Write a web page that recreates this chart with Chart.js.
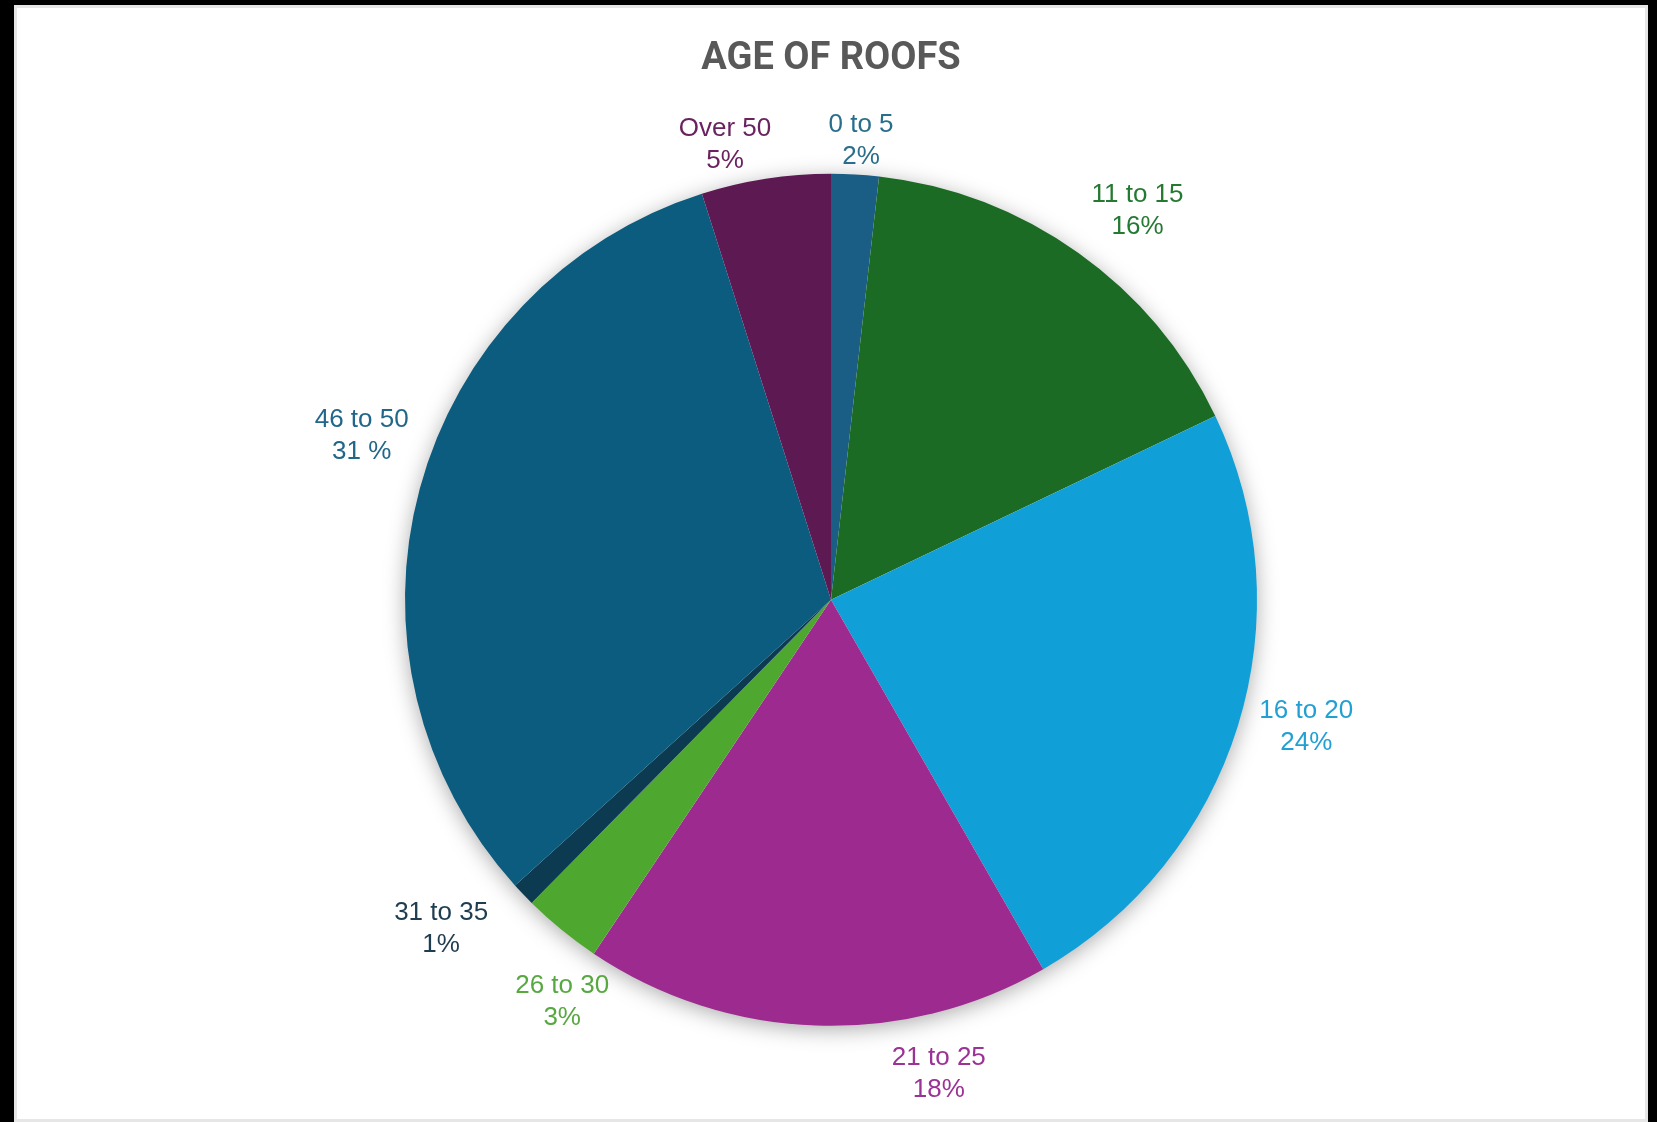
<!DOCTYPE html>
<html lang="en">
<head>
  <meta charset="UTF-8" />
  <title>Age of Roofs</title>
  <script src="https://cdn.jsdelivr.net/npm/chart.js"></script>
  <style>
    html, body {
      margin: 0;
      padding: 0;
      background-color: #000;
      width: 1657px;
      height: 1122px;
      overflow: hidden;
    }
    .panel {
      position: absolute;
      left: 14px;
      top: 5px;
      right: 9px;
      bottom: 0;
      background: #fff;
      border: 3px solid #e6e6e6;
      box-sizing: border-box;
    }
    .wrap {
      position: absolute;
      left: 0;
      top: 0;
      width: 1657px;
      height: 1122px;
    }
  </style>
</head>
<body>
  <div class="panel"></div>
  <div class="wrap"><canvas id="roofChart"></canvas></div>

  <script>
    // roof age groups, clockwise from 12 o'clock
    const ageGroups = ['0 to 5', '11 to 15', '16 to 20', '21 to 25', '26 to 30', '31 to 35', '46 to 50', 'Over 50'];
    // share of roofs (%)
    const roofShares = [1.8, 16.1, 23.8, 17.7, 3.0, 0.9, 31.8, 4.9];
    // percentage text as printed on the chart
    const shareLabels = ['2%', '16%', '24%', '18%', '3%', '1%', '31 %', '5%'];

    const sliceColors = ['#1a5e85', '#1c6b24', '#119fd8', '#9d2a8f', '#4ea830', '#0c3a50', '#0b5c7e', '#5d1a52'];
    const textColors = ['#2a6e8c', '#257a32', '#22a0d4', '#9b3296', '#58a842', '#1f3d50', '#22678a', '#6b2360'];

    // soft drop shadow behind the whole pie
    const pieShadow = {
      id: 'pieShadow',
      beforeDatasetsDraw(chart) {
        const arc = chart.getDatasetMeta(0).data[0];
        if (!arc) return;
        const { x, y, outerRadius } = arc.getProps(['x', 'y', 'outerRadius'], true);
        const ctx = chart.ctx;
        ctx.save();
        ctx.shadowColor = 'rgba(0,0,0,0.35)';
        ctx.shadowBlur = 22;
        ctx.shadowOffsetX = 0;
        ctx.shadowOffsetY = 4;
        ctx.fillStyle = '#fff';
        ctx.beginPath();
        ctx.arc(x, y, outerRadius - 1, 0, Math.PI * 2);
        ctx.fill();
        ctx.restore();
      }
    };

    // category + percent labels outside each slice
    const outsideLabels = {
      id: 'outsideLabels',
      afterDatasetsDraw(chart, args, opts) {
        const ctx = chart.ctx;
        const meta = chart.getDatasetMeta(0);
        ctx.save();
        ctx.font = opts.font;
        ctx.textAlign = 'center';
        ctx.textBaseline = 'middle';
        meta.data.forEach((arc, i) => {
          const p = arc.getProps(['x', 'y', 'startAngle', 'endAngle', 'outerRadius'], true);
          const nudge = opts.nudge[i] || [0, 50];
          const a = (p.startAngle + p.endAngle) / 2 + nudge[0] * Math.PI / 180;
          const d = p.outerRadius + nudge[1];
          const cx = p.x + Math.cos(a) * d;
          const cy = p.y + Math.sin(a) * d;
          ctx.fillStyle = textColors[i];
          ctx.fillText(ageGroups[i], cx, cy - opts.lineGap / 2);
          ctx.fillText(shareLabels[i], cx, cy + opts.lineGap / 2);
        });
        ctx.restore();
      }
    };

    const ctx = document.getElementById('roofChart').getContext('2d');
    new Chart(ctx, {
      type: 'pie',
      data: {
        labels: ageGroups,
        datasets: [{
          data: roofShares,
          backgroundColor: sliceColors,
          borderWidth: 0,
          hoverOffset: 0,
          offset: 0
        }]
      },
      options: {
        responsive: true,
        maintainAspectRatio: false,
        animation: false,
        events: [],
        layout: {
          padding: { top: 37, left: 405, right: 400, bottom: 96 }
        },
        plugins: {
          legend: { display: false },
          tooltip: { enabled: false },
          title: {
            display: true,
            text: 'AGE OF ROOFS',
            color: '#595959',
            font: { family: 'Roboto', size: 38, weight: 'bold', lineHeight: 1.2 },
            padding: { top: 0, bottom: 91 }
          },
          outsideLabels: {
            font: '26px "Liberation Sans", Arial, sans-serif',
            lineGap: 32,
            // [angle shift in degrees, distance beyond the rim]
            nudge: [[0.5, 34], [2.8, 69], [-2.3, 66], [-14.8, 60], [-5.5, 58], [3.6, 84], [4.1, 71], [-4.3, 41]]
          }
        }
      },
      plugins: [pieShadow, outsideLabels]
    });
  </script>
</body>
</html>
